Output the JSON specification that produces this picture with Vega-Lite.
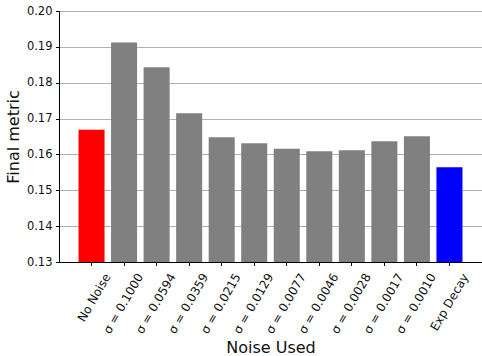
{
  "$schema": "https://vega.github.io/schema/vega-lite/v6.json",
  "width": 423,
  "height": 251,
  "autosize": {"type": "none"},
  "padding": {"left": 59, "top": 11, "right": 0, "bottom": 94},
  "config": {
    "font": "DejaVu Sans",
    "view": {"stroke": "#000000", "strokeWidth": 1},
    "axis": {
      "domainColor": "#000000",
      "domainWidth": 1,
      "tickColor": "#000000",
      "tickSize": 3.5,
      "tickWidth": 1,
      "labelColor": "#111111",
      "titleColor": "#111111",
      "labelFont": "DejaVu Sans",
      "titleFont": "DejaVu Sans",
      "titleFontWeight": "normal"
    }
  },
  "data": {
    "values": [
      {"noise": "No Noise", "kind": "baseline", "metric": 0.1669},
      {"noise": "σ = 0.1000", "kind": "fixed", "metric": 0.1912},
      {"noise": "σ = 0.0594", "kind": "fixed", "metric": 0.1843},
      {"noise": "σ = 0.0359", "kind": "fixed", "metric": 0.1715},
      {"noise": "σ = 0.0215", "kind": "fixed", "metric": 0.1648},
      {"noise": "σ = 0.0129", "kind": "fixed", "metric": 0.1631},
      {"noise": "σ = 0.0077", "kind": "fixed", "metric": 0.1616},
      {"noise": "σ = 0.0046", "kind": "fixed", "metric": 0.1609},
      {"noise": "σ = 0.0028", "kind": "fixed", "metric": 0.1612},
      {"noise": "σ = 0.0017", "kind": "fixed", "metric": 0.1637},
      {"noise": "σ = 0.0010", "kind": "fixed", "metric": 0.1651},
      {"noise": "Exp Decay", "kind": "schedule", "metric": 0.1564}
    ]
  },
  "mark": {"type": "bar", "clip": true},
  "encoding": {
    "x": {
      "field": "noise",
      "type": "nominal",
      "sort": null,
      "scale": {"paddingInner": 0.2, "paddingOuter": 0.6},
      "axis": {
        "title": "Noise Used",
        "titleFontSize": 16,
        "titleY": 90,
        "titleBaseline": "alphabetic",
        "labelAngle": -60,
        "labelAlign": "right",
        "labelBaseline": "middle",
        "labelFontSize": 12,
        "labelPadding": 8.5,
        "labelOffset": 16,
        "labelOverlap": false,
        "labelBound": false,
        "labelLimit": 0
      }
    },
    "y": {
      "field": "metric",
      "type": "quantitative",
      "scale": {"domain": [0.13, 0.2], "zero": false, "nice": false},
      "axis": {
        "title": "Final metric",
        "titleFontSize": 16,
        "titleAngle": -90,
        "titleX": -41,
        "titleY": 125.5,
        "titleAlign": "center",
        "titleBaseline": "alphabetic",
        "values": [0.13, 0.14, 0.15, 0.16, 0.17, 0.18, 0.19, 0.2],
        "format": ".2f",
        "labelFontSize": 11.5,
        "labelPadding": 3.5,
        "grid": true,
        "gridColor": "#b0b0b0",
        "gridWidth": 1
      }
    },
    "color": {
      "field": "kind",
      "type": "nominal",
      "scale": {"domain": ["baseline", "fixed", "schedule"], "range": ["#ff0000", "#808080", "#0000ff"]},
      "legend": null
    }
  }
}
